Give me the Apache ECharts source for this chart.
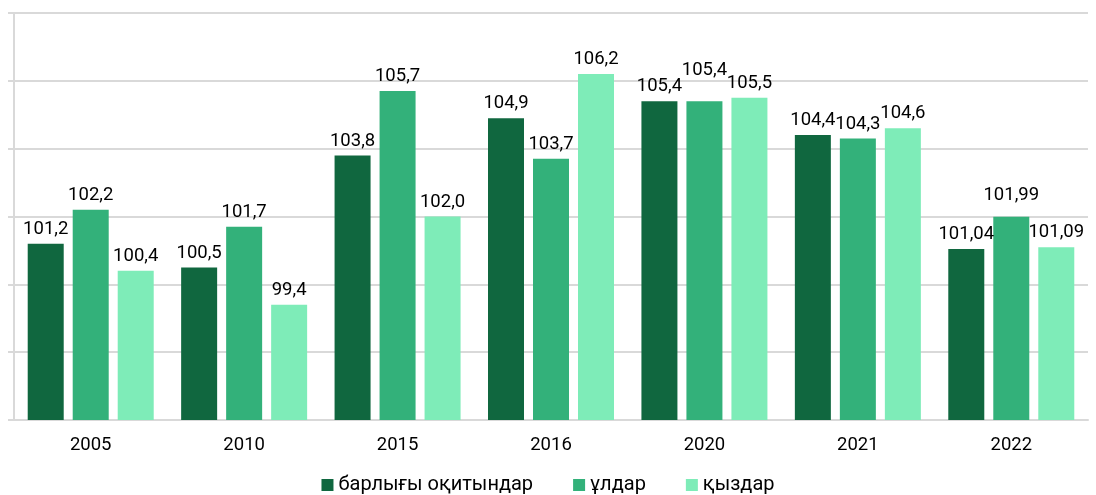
<!DOCTYPE html>
<html>
<head>
<meta charset="utf-8">
<script src="https://cdn.jsdelivr.net/npm/echarts@6/dist/echarts.min.js"></script>
<style>
  html, body { margin: 0; padding: 0; background: #fff; }
  #chart { width: 1096px; height: 495px; }
</style>
</head>
<body>
<div id="chart"></div>
<script>
  var years = ['2005', '2010', '2015', '2016', '2020', '2021', '2022'];
  var decimals = [1, 1, 1, 1, 1, 1, 2];
  var total = [101.2, 100.5, 103.8, 104.9, 105.4, 104.4, 101.04];
  var boys = [102.2, 101.7, 105.7, 103.7, 105.4, 104.3, 101.99];
  var girls = [100.4, 99.4, 102.0, 106.2, 105.5, 104.6, 101.09];
  var names = ['барлығы оқитындар', 'ұлдар', 'қыздар'];
  var colors = ['#10673f', '#33b17a', '#7eecb8'];

  // some labels are lifted in the original so they don't collide
  var lift = { 1: { 4: 16, 6: 7 } };

  var chart = echarts.init(document.getElementById('chart'));

  function label(p) {
    return p.value.toFixed(decimals[p.dataIndex]).replace('.', ',');
  }

  function makeSeries(idx, data) {
    var items = data.map(function (v, i) {
      var dy = (lift[idx] && lift[idx][i]) || 0;
      return dy ? { value: v, label: { offset: [0, -dy] } } : v;
    });
    return {
      name: names[idx],
      type: 'bar',
      data: items,
      barWidth: 36,
      barGap: '25%',
      itemStyle: { color: colors[idx] },
      label: {
        show: true,
        position: 'top',
        distance: 5,
        color: '#000',
        fontSize: 18.5,
        fontFamily: 'Roboto',
        formatter: label
      }
    };
  }

  chart.setOption({
    textStyle: { fontFamily: 'Roboto' },
    animation: false,
    grid: { left: 14, right: 8, top: 13, bottom: 75 },
    legend: {
      top: 470,
      left: 'center',
      itemWidth: 12,
      itemHeight: 12,
      itemGap: 40,
      icon: 'rect',
      textStyle: { fontSize: 20, color: '#000', fontFamily: 'Roboto' },
      data: names
    },
    xAxis: {
      type: 'category',
      data: years,
      axisLine: { lineStyle: { color: '#d9d9d9', width: 2 } },
      axisTick: { show: false },
      axisLabel: { color: '#000', fontSize: 18.5, margin: 16, fontFamily: 'Roboto' }
    },
    yAxis: {
      type: 'value',
      min: 96,
      max: 108,
      interval: 2,
      axisLabel: { show: false },
      axisLine: { show: true, lineStyle: { color: '#d9d9d9', width: 2 } },
      axisTick: { show: true, length: 6, lineStyle: { color: '#d9d9d9', width: 2 } },
      splitLine: { lineStyle: { color: '#d9d9d9', width: 2 } }
    },
    series: [
      makeSeries(0, total),
      makeSeries(1, boys),
      makeSeries(2, girls)
    ]
  });
</script>
</body>
</html>
